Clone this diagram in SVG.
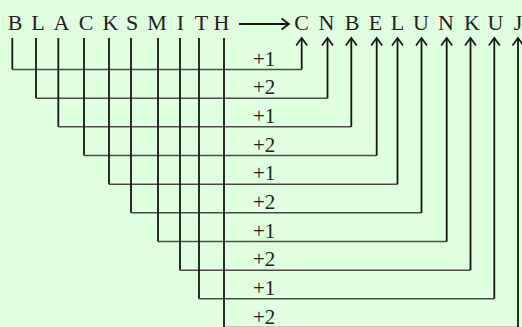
<svg xmlns="http://www.w3.org/2000/svg" width="522" height="327" viewBox="0 0 522 327">
<style>
.bg{fill:#e0ffe0}
.lt{font-family:"Liberation Serif","Times New Roman",serif;font-size:22px;fill:#222;text-anchor:middle}
.lb{font-family:"Liberation Serif","Times New Roman",serif;font-size:21px;fill:#222}
.v{fill:none;stroke:#161616;stroke-width:1.8}
.h{fill:none;stroke:#4a4a4a;stroke-width:1.4}
.a{marker-end:url(#ah)}
</style>
<defs>
<marker id="ah" markerUnits="userSpaceOnUse" markerWidth="20" markerHeight="20" refX="0" refY="0" orient="auto" overflow="visible">
<path d="M-7.5,-5.5 L0,0 L-7.5,5.5" fill="none" stroke="#161616" stroke-width="1.7"/>
</marker>
</defs>
<rect class="bg" x="0" y="0" width="522" height="327"/>
<g id="plain">
<g id="p-B"><text class="lt" x="15" y="30">B</text></g>
<g id="p-L"><text class="lt" x="38" y="30">L</text></g>
<g id="p-A"><text class="lt" x="61.5" y="30">A</text></g>
<g id="p-C"><text class="lt" x="86" y="30">C</text></g>
<g id="p-K"><text class="lt" x="110.5" y="30">K</text></g>
<g id="p-S"><text class="lt" x="132" y="30">S</text></g>
<g id="p-M"><text class="lt" x="157" y="30">M</text></g>
<g id="p-I"><text class="lt" x="180.5" y="30">I</text></g>
<g id="p-T"><text class="lt" x="201.5" y="30">T</text></g>
<g id="p-H"><text class="lt" x="221.5" y="30">H</text></g>
</g>
<g id="cipher">
<g id="c-C"><text class="lt" x="301.5" y="30">C</text></g>
<g id="c-N1"><text class="lt" x="326.5" y="30">N</text></g>
<g id="c-B"><text class="lt" x="352" y="30">B</text></g>
<g id="c-E"><text class="lt" x="375.5" y="30">E</text></g>
<g id="c-L"><text class="lt" x="397.5" y="30">L</text></g>
<g id="c-U1"><text class="lt" x="421" y="30">U</text></g>
<g id="c-N2"><text class="lt" x="446" y="30">N</text></g>
<g id="c-K"><text class="lt" x="472" y="30">K</text></g>
<g id="c-U2"><text class="lt" x="495.5" y="30">U</text></g>
<g id="c-J"><text class="lt" x="518" y="30">J</text></g>
</g>
<g id="connectors">
<path class="v a" d="M239,24 H289"/>
<g id="k1"><path class="v" d="M12.3,38 V69.5"/><path class="h" d="M12.3,69.5 H301.7"/><path class="v a" d="M301.7,69.5 V38"/></g>
<g id="k2"><path class="v" d="M36,38 V98.2"/><path class="h" d="M36,98.2 H327.5"/><path class="v a" d="M327.5,98.2 V38"/></g>
<g id="k3"><path class="v" d="M58.3,38 V126.8"/><path class="h" d="M58.3,126.8 H351.3"/><path class="v a" d="M351.3,126.8 V38"/></g>
<g id="k4"><path class="v" d="M84,38 V155.5"/><path class="h" d="M84,155.5 H376.7"/><path class="v a" d="M376.7,155.5 V38"/></g>
<g id="k5"><path class="v" d="M109,38 V184.2"/><path class="h" d="M109,184.2 H397.5"/><path class="v a" d="M397.5,184.2 V38"/></g>
<g id="k6"><path class="v" d="M131,38 V212.8"/><path class="h" d="M131,212.8 H421.5"/><path class="v a" d="M421.5,212.8 V38"/></g>
<g id="k7"><path class="v" d="M158,38 V241.5"/><path class="h" d="M158,241.5 H446.7"/><path class="v a" d="M446.7,241.5 V38"/></g>
<g id="k8"><path class="v" d="M180,38 V270.2"/><path class="h" d="M180,270.2 H470.5"/><path class="v a" d="M470.5,270.2 V38"/></g>
<g id="k9"><path class="v" d="M199,38 V298.8"/><path class="h" d="M199,298.8 H494.3"/><path class="v a" d="M494.3,298.8 V38"/></g>
<g id="k10"><path class="v" d="M224,38 V327.5"/><path class="h" d="M224,327.5 H518"/><path class="v a" d="M518,327.5 V38"/></g>
</g>
<g id="labels">
<text class="lb" x="253" y="65.5">+1</text>
<text class="lb" x="253" y="94.2">+2</text>
<text class="lb" x="253" y="122.8">+1</text>
<text class="lb" x="253" y="151.5">+2</text>
<text class="lb" x="253" y="180.2">+1</text>
<text class="lb" x="253" y="208.8">+2</text>
<text class="lb" x="253" y="237.5">+1</text>
<text class="lb" x="253" y="266.2">+2</text>
<text class="lb" x="253" y="294.8">+1</text>
<text class="lb" x="253" y="323.5">+2</text>
</g>
</svg>
